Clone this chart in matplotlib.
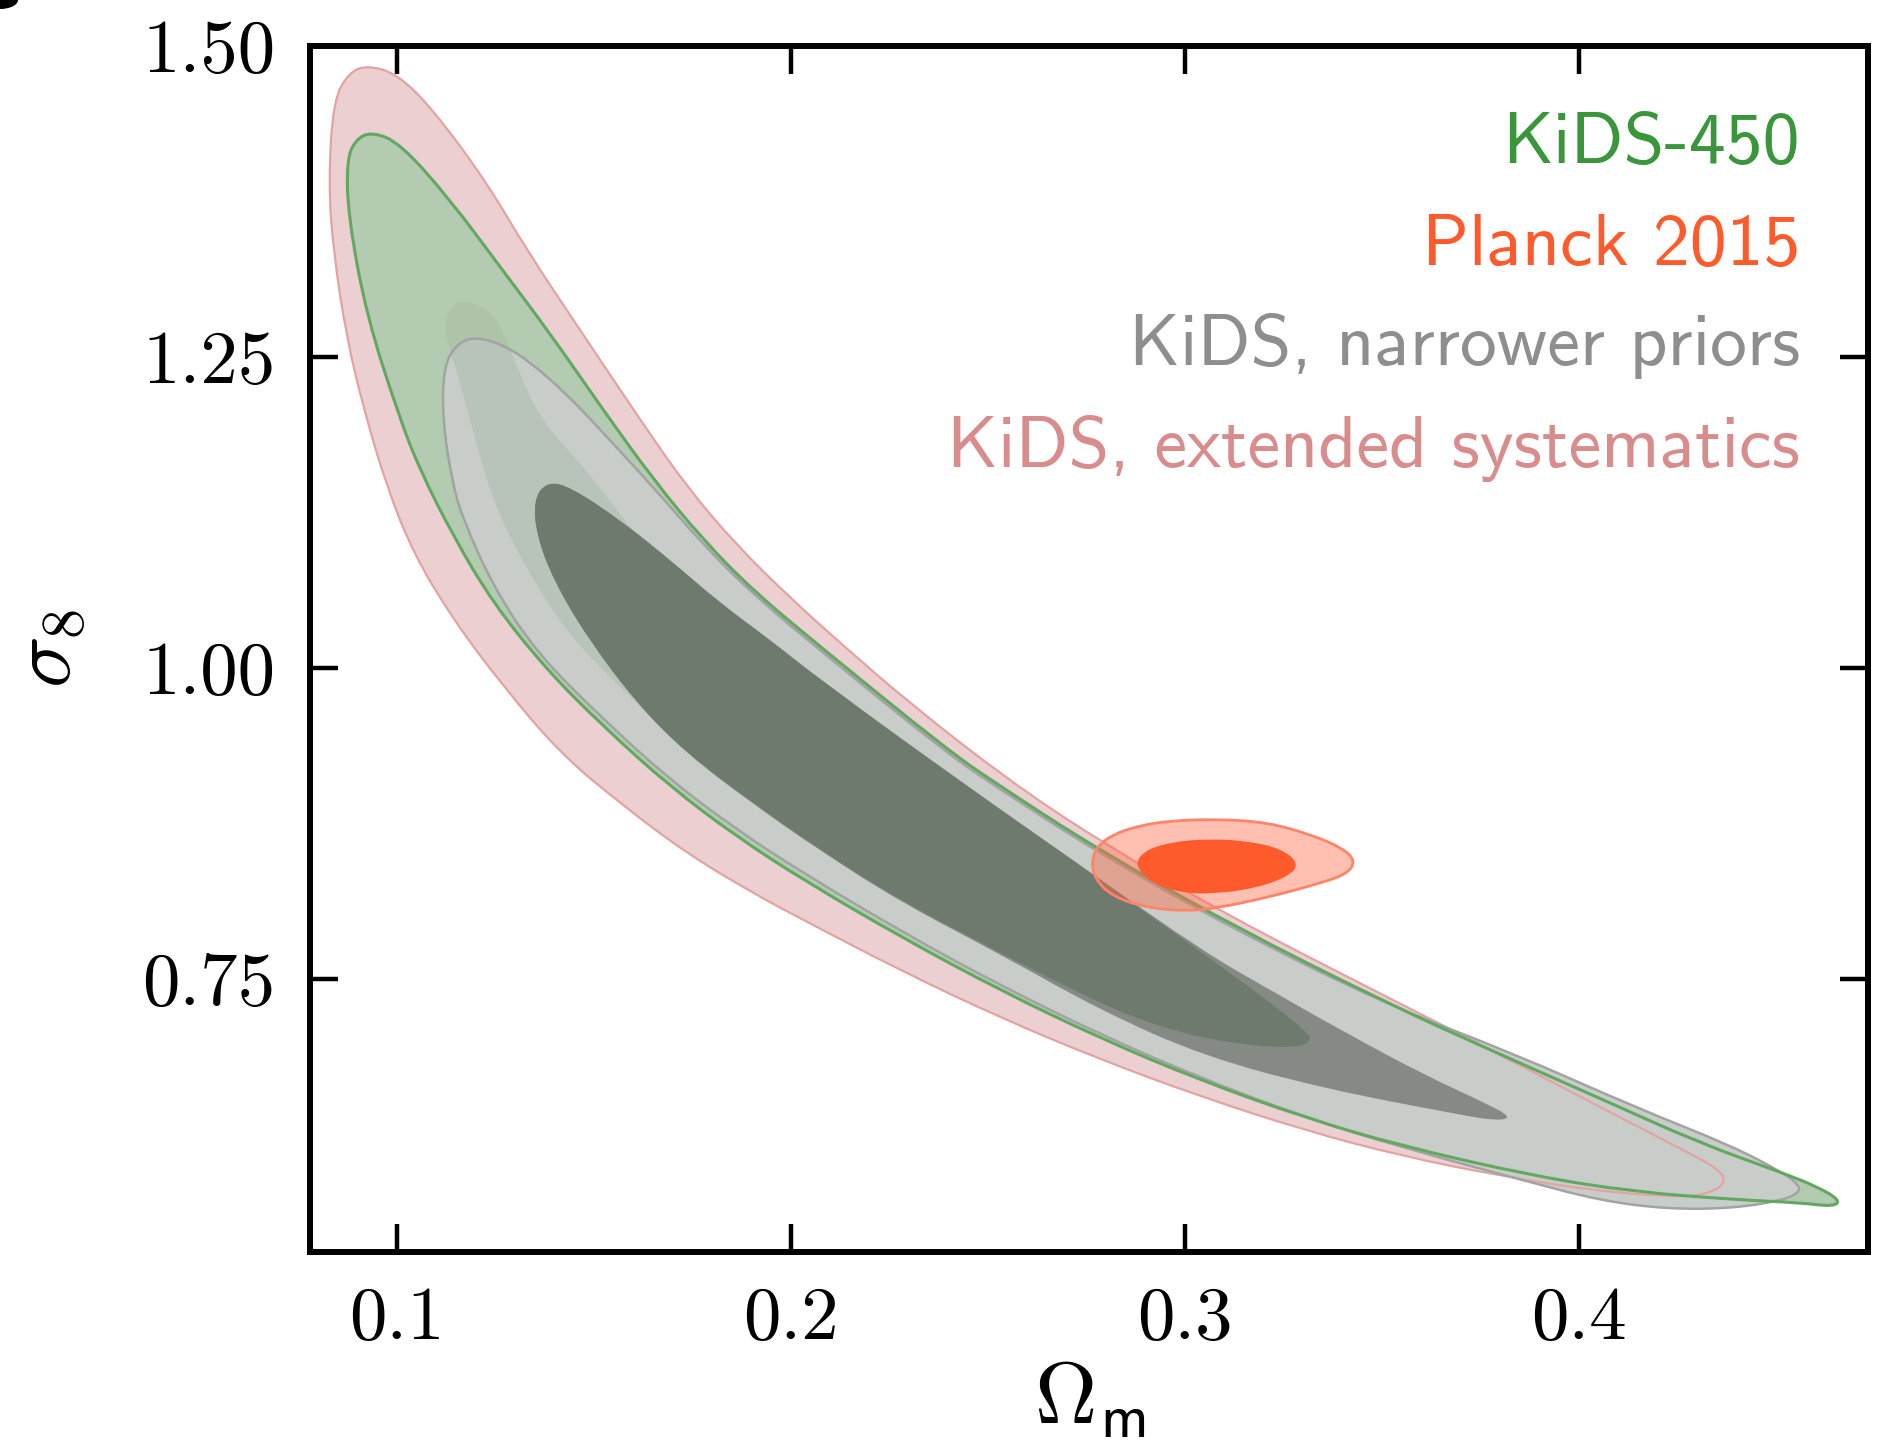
import numpy as np
import matplotlib
matplotlib.use("Agg")
import matplotlib.pyplot as plt
from matplotlib.path import Path
from matplotlib.patches import PathPatch, Ellipse

plt.rcParams['mathtext.fontset'] = 'cm'

# contour outlines (Omega_m, sigma_8), traced clockwise from the top of each region
# KiDS, extended systematics: 95% region
ext95_om = [0.0924, 0.1000, 0.1092, 0.1229, 0.1330, 0.1470, 0.1617, 0.1735, 0.1862, 0.2000,
            0.2130, 0.2300, 0.2542, 0.2774, 0.3113, 0.3501, 0.3739, 0.4053, 0.4264, 0.4358,
            0.4371, 0.4332, 0.4264, 0.4053, 0.3800, 0.3546, 0.3305, 0.3038, 0.2784, 0.2530,
            0.2280, 0.2031, 0.1904, 0.1735, 0.1566, 0.1414, 0.1270, 0.1143, 0.1041, 0.0974,
            0.0918, 0.0872, 0.0838, 0.0826, 0.0838, 0.0878]
ext95_s8 = [1.4845, 1.4777, 1.4487, 1.3896, 1.3354, 1.2690, 1.1994, 1.1457, 1.0985, 1.0556,
            1.0186, 0.9719, 0.9120, 0.8625, 0.8002, 0.7373, 0.6990, 0.6470, 0.6125, 0.5965,
            0.5860, 0.5780, 0.5745, 0.5792, 0.5917, 0.6080, 0.6282, 0.6556, 0.6854, 0.7190,
            0.7565, 0.7974, 0.8189, 0.8510, 0.8912, 0.9314, 0.9850, 1.0386, 1.0922, 1.1457,
            1.2050, 1.2650, 1.3354, 1.3896, 1.4564, 1.4787]

# KiDS-450: 95% region
kids95_om = [0.0936, 0.1008, 0.1135, 0.1261, 0.1388, 0.1515, 0.1651, 0.1777, 0.1904, 0.2074,
             0.2397, 0.2530, 0.2774, 0.3114, 0.3503, 0.3774, 0.4053, 0.4307, 0.4519, 0.4603,
             0.4662, 0.4645, 0.4561, 0.4391, 0.4137, 0.3883, 0.3546, 0.3307, 0.3038, 0.2784,
             0.2530, 0.2280, 0.2031, 0.1862, 0.1693, 0.1524, 0.1380, 0.1244, 0.1143, 0.1058,
             0.1008, 0.0923, 0.0876, 0.0872, 0.0895]
kids95_s8 = [1.4311, 1.4218, 1.3762, 1.3226, 1.2690, 1.2110, 1.1511, 1.1029, 1.0620, 1.0170,
             0.9340, 0.9050, 0.8550, 0.7940, 0.7320, 0.6929, 0.6540, 0.6179, 0.5938, 0.5831,
             0.5723, 0.5670, 0.5702, 0.5727, 0.5790, 0.5917, 0.6160, 0.6382, 0.6686, 0.7024,
             0.7410, 0.7835, 0.8296, 0.8644, 0.9046, 0.9528, 0.9984, 1.0520, 1.1056, 1.1592,
             1.1994, 1.2824, 1.3628, 1.4084, 1.4250]

# KiDS-450: 68% region
kids68_om = [0.1160, 0.1225, 0.1265, 0.1300, 0.1363, 0.1481, 0.1608, 0.1735, 0.1850, 0.1900,
             0.1735, 0.1566, 0.1439, 0.1329, 0.1244, 0.1185, 0.1150, 0.1120, 0.1130]
kids68_s8 = [1.2958, 1.2900, 1.2741, 1.2450, 1.1994, 1.1592, 1.1056, 1.0600, 1.0200, 0.9500,
             0.9314, 0.9850, 1.0252, 1.0788, 1.1324, 1.1994, 1.2400, 1.2700, 1.2880]

# KiDS, narrower priors: 95% region
narrow95_om = [0.1194, 0.1260, 0.1330, 0.1431, 0.1520, 0.1651, 0.1777, 0.1904, 0.2074, 0.2397,
               0.2530, 0.2774, 0.3114, 0.3503, 0.3842, 0.4138, 0.4392, 0.4519, 0.4553, 0.4561,
               0.4519, 0.4392, 0.4223, 0.4053, 0.3883, 0.3546, 0.3307, 0.3038, 0.2784, 0.2530,
               0.2300, 0.2031, 0.1862, 0.1693, 0.1524, 0.1355, 0.1244, 0.1168, 0.1140, 0.1115,
               0.1118, 0.1150]
narrow95_s8 = [1.2663, 1.2610, 1.2480, 1.2200, 1.1900, 1.1450, 1.0990, 1.0590, 1.0140, 0.9310,
               0.9025, 0.8525, 0.7915, 0.7305, 0.6890, 0.6474, 0.6152, 0.5938, 0.5857, 0.5790,
               0.5723, 0.5657, 0.5650, 0.5720, 0.5860, 0.6150, 0.6385, 0.6705, 0.7055, 0.7450,
               0.7845, 0.8350, 0.8700, 0.9100, 0.9585, 1.0118, 1.0654, 1.1190, 1.1485, 1.2000,
               1.2422, 1.2600]

# KiDS, narrower priors: 68% region
narrow68_om = [0.1380, 0.1439, 0.1566, 0.1693, 0.1820, 0.1947, 0.2074, 0.2435, 0.2740, 0.3046,
               0.3211, 0.3400, 0.3600, 0.3750, 0.3830, 0.3790, 0.3695, 0.3351, 0.3046, 0.2784,
               0.2530, 0.2277, 0.2074, 0.1904, 0.1735, 0.1608, 0.1481, 0.1397, 0.1355, 0.1346]
narrow68_s8 = [1.1498, 1.1457, 1.1190, 1.0868, 1.0520, 1.0225, 0.9904, 0.9075, 0.8400, 0.7720,
               0.7420, 0.7080, 0.6740, 0.6520, 0.6390, 0.6360, 0.6410, 0.6620, 0.6880, 0.7250,
               0.7700, 0.8120, 0.8530, 0.8905, 0.9310, 0.9716, 1.0252, 1.0707, 1.1056, 1.1350]

# overlap of the 68% regions
core_om = [0.1380, 0.1439, 0.1566, 0.1693, 0.1820, 0.1947, 0.2074, 0.2435, 0.2740, 0.2950,
           0.3100, 0.3220, 0.3300, 0.3325, 0.3270, 0.3100, 0.2950, 0.2784, 0.2530, 0.2277,
           0.2074, 0.1904, 0.1735, 0.1608, 0.1481, 0.1397, 0.1355, 0.1346]
core_s8 = [1.1498, 1.1457, 1.1190, 1.0868, 1.0520, 1.0225, 0.9904, 0.9075, 0.8400, 0.7920,
           0.7580, 0.7300, 0.7100, 0.7000, 0.6940, 0.6990, 0.7100, 0.7300, 0.7710, 0.8131,
           0.8537, 0.8912, 0.9314, 0.9716, 1.0252, 1.0707, 1.1056, 1.1350]

# Planck 2015
planck95_om = [0.2762, 0.2775, 0.2815, 0.2880, 0.2960, 0.3080, 0.3207, 0.3320, 0.3400, 0.3432,
               0.3410, 0.3320, 0.3207, 0.3080, 0.3000, 0.2900, 0.2815, 0.2772]
planck95_s8 = [0.8440, 0.8560, 0.8660, 0.8730, 0.8772, 0.8785, 0.8760, 0.8660, 0.8550, 0.8450,
               0.8340, 0.8250, 0.8155, 0.8070, 0.8045, 0.8075, 0.8165, 0.8300]
planck68_om = [0.2872, 0.2895, 0.2962, 0.3063, 0.3165, 0.3245, 0.3288, 0.3265, 0.3185, 0.3080,
               0.2990, 0.2912]
planck68_s8 = [0.8416, 0.8530, 0.8600, 0.8628, 0.8606, 0.8545, 0.8430, 0.8330, 0.8235, 0.8185,
               0.8192, 0.8275]

xticks = [0.1, 0.2, 0.3, 0.4]
xtick_labels = ['0.1', '0.2', '0.3', '0.4']
yticks = [0.75, 1.00, 1.25, 1.50]
ytick_labels = ['0.75', '1.00', '1.25', '1.50']

labels = ['KiDS-450', 'Planck 2015', 'KiDS, narrower priors', 'KiDS, extended systematics']
label_colors = ['#3a963a', '#ff5a2c', '#8e8e8e', '#d88c8c']


def smooth_path(om, s8):
    # closed quadratic b-spline through the outline vertices
    pts = np.column_stack([om, s8])
    mids = (pts + np.roll(pts, -1, axis=0)) / 2
    verts = [mids[-1]]
    codes = [Path.MOVETO]
    for p, m in zip(pts, mids):
        verts += [p, m]
        codes += [Path.CURVE3, Path.CURVE3]
    verts.append(mids[-1])
    codes.append(Path.CLOSEPOLY)
    return Path(verts, codes)


def region(ax, om, s8, z, **kw):
    patch = PathPatch(smooth_path(om, s8), zorder=z, **kw)
    ax.add_patch(patch)
    return patch


fig = plt.figure(figsize=(18.87, 14.51), dpi=100)
ax = fig.add_axes([0.1643, 0.1371, 0.8257, 0.8312])

# filled regions
region(ax, ext95_om, ext95_s8, 1, fc='#ecd0d1', ec='none')
region(ax, kids95_om, kids95_s8, 2, fc='#b3cbb0', ec='none')
region(ax, kids68_om, kids68_s8, 3, fc='#aec3a7', ec='none')
narrow = region(ax, narrow95_om, narrow95_s8, 4, fc='#c9cdc9', ec='none')
inner = region(ax, kids68_om, kids68_s8, 5, fc='#b8c3b9', ec='none')
inner.set_clip_path(narrow)
region(ax, narrow68_om, narrow68_s8, 6, fc='#858a85', ec='none')
region(ax, core_om, core_s8, 7, fc='#6f7a6f', ec='none')

# contour edges
region(ax, ext95_om, ext95_s8, 8, fc='none', ec='#e2a3a3', lw=1.6)
region(ax, narrow95_om, narrow95_s8, 9, fc='none', ec='#a2a4a2', lw=1.8)
region(ax, kids95_om, kids95_s8, 10, fc='none', ec='#62a862', lw=2.2)

region(ax, planck95_om, planck95_s8, 11, fc='#ff6a48', alpha=0.42, ec='none')
region(ax, planck95_om, planck95_s8, 12, fc='none', ec='#ff8468', lw=2.0)
region(ax, planck68_om, planck68_s8, 13, fc='#ff5a2b', ec='none')

ax.set_xlim(0.0779, 0.4733)
ax.set_ylim(0.5305, 1.5)

ax.set_xticks(xticks, labels=xtick_labels)
ax.set_yticks(yticks, labels=ytick_labels)
ax.tick_params(direction='in', length=20, width=3.2, top=True, right=True,
               labelsize=54, pad=25)
for lab in ax.get_xticklabels() + ax.get_yticklabels():
    lab.set_fontfamily('cmr10')
for sp in ax.spines.values():
    sp.set_linewidth(4.3)

ax.set_xlabel(r'$\Omega_{\mathsf{m}}$', fontsize=62)
ax.set_ylabel(r'$\sigma_8$', fontsize=62)
ax.xaxis.set_label_coords(0.5, -0.088)
ax.yaxis.set_label_coords(-0.142, 0.5)

# legend as coloured text
ys = [0.903, 0.8184, 0.7355, 0.651]
for txt, col, y in zip(labels, label_colors, ys):
    ax.text(0.9563, y, txt, transform=ax.transAxes, ha='right', va='baseline',
            fontsize=53, family='cmss10', color=col, zorder=20)

# corner of the neighbouring panel mark
fig.add_artist(Ellipse((0.0, 1.0), width=2 * 18 / 1887, height=2 * 9 / 1451,
                       transform=fig.transFigure, fc='black', ec='none'))

fig.savefig('out.png', dpi=100)
